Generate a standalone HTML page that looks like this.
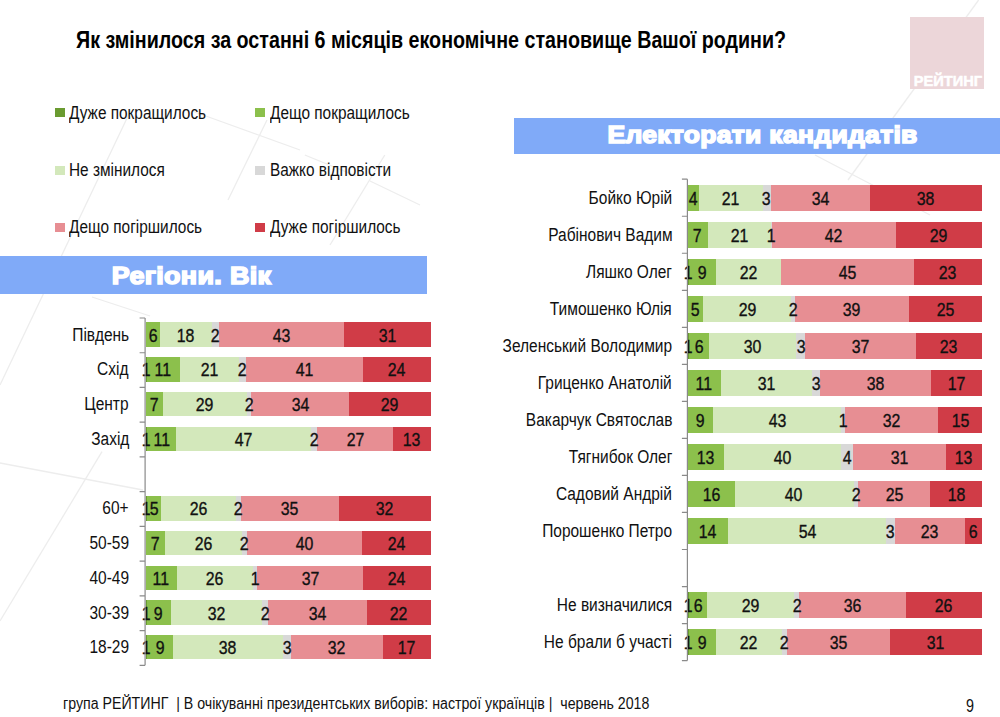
<!DOCTYPE html>
<html><head><meta charset="utf-8"><style>
html,body{margin:0;padding:0;}
body{width:1000px;height:717px;position:relative;overflow:hidden;background:#fff;font-family:"Liberation Sans", sans-serif;}
.t{position:absolute;line-height:1;white-space:nowrap;}
.r{position:absolute;}
</style></head><body>
<svg width="1000" height="717" style="position:absolute;left:0;top:0"><line x1="978.6" y1="0" x2="848" y2="180" stroke="#ededed" stroke-width="1.3"/><line x1="815" y1="155" x2="930" y2="215" stroke="#ededed" stroke-width="1.3"/><line x1="384.8" y1="155" x2="330" y2="245" stroke="#ededed" stroke-width="1.3"/><line x1="370" y1="181" x2="420" y2="205" stroke="#ededed" stroke-width="1.3"/><line x1="304.8" y1="155" x2="356" y2="175.8" stroke="#ededed" stroke-width="1.3"/><line x1="129" y1="114" x2="0" y2="385" stroke="#ededed" stroke-width="1.3"/><line x1="192" y1="111" x2="300" y2="150" stroke="#ededed" stroke-width="1.3"/><line x1="267" y1="120" x2="228" y2="200" stroke="#ededed" stroke-width="1.3"/><line x1="92" y1="297" x2="150" y2="316" stroke="#ededed" stroke-width="1.3"/><line x1="102" y1="451.6" x2="0" y2="621" stroke="#ededed" stroke-width="1.3"/><line x1="0" y1="463" x2="143" y2="490" stroke="#ededed" stroke-width="1.3"/></svg>
<div class="t" style="left:76.20px;top:28.83px;font-size:23px;font-weight:bold;color:#000;transform:scaleX(0.8556);transform-origin:left;">Як змінилося за останні 6 місяців економічне становище Вашої родини?</div>
<div class="r" style="left:910.00px;top:16.70px;width:74.00px;height:72.60px;background:#ecd6d9;"></div>
<div class="t" style="left:748.30px;width:400px;text-align:center;top:73.73px;font-size:14.5px;font-weight:bold;color:#fff;-webkit-text-stroke:0.5px #fff;"><span style="display:inline-block;transform:scaleX(1.01);transform-origin:center">РЕЙТИНГ</span></div>
<div class="r" style="left:55.40px;top:108.20px;width:10.00px;height:9.20px;background:#6a9b30;"></div>
<div class="t" style="left:68.90px;top:104.79px;font-size:17.5px;font-weight:normal;color:#111;transform:scaleX(0.879);transform-origin:left;">Дуже покращилось</div>
<div class="r" style="left:254.90px;top:108.20px;width:10.00px;height:9.20px;background:#8cc04c;"></div>
<div class="t" style="left:269.90px;top:104.79px;font-size:17.5px;font-weight:normal;color:#111;transform:scaleX(0.879);transform-origin:left;">Дещо покращилось</div>
<div class="r" style="left:55.40px;top:165.50px;width:10.00px;height:9.20px;background:#d3e8bb;"></div>
<div class="t" style="left:68.90px;top:162.09px;font-size:17.5px;font-weight:normal;color:#111;transform:scaleX(0.879);transform-origin:left;">Не змінилося</div>
<div class="r" style="left:254.90px;top:165.50px;width:10.00px;height:9.20px;background:#d8d8d8;"></div>
<div class="t" style="left:269.90px;top:162.09px;font-size:17.5px;font-weight:normal;color:#111;transform:scaleX(0.879);transform-origin:left;">Важко відповісти</div>
<div class="r" style="left:55.40px;top:222.80px;width:10.00px;height:9.20px;background:#e78e93;"></div>
<div class="t" style="left:68.90px;top:219.39px;font-size:17.5px;font-weight:normal;color:#111;transform:scaleX(0.879);transform-origin:left;">Дещо погіршилось</div>
<div class="r" style="left:254.90px;top:222.80px;width:10.00px;height:9.20px;background:#d03c47;"></div>
<div class="t" style="left:269.90px;top:219.39px;font-size:17.5px;font-weight:normal;color:#111;transform:scaleX(0.879);transform-origin:left;">Дуже погіршилось</div>
<div class="r" style="left:0.00px;top:256.10px;width:427.00px;height:38.40px;background:#80aaf8;"></div>
<div class="t" style="left:-8.10px;width:400px;text-align:center;top:264.46px;font-size:24.5px;font-weight:bold;color:#fff;-webkit-text-stroke:1.6px #fff;letter-spacing:0.3px;"><span style="display:inline-block;transform:scaleX(1.1);transform-origin:center">Регіони. Вік</span></div>
<div class="r" style="left:514.00px;top:117.60px;width:486.00px;height:36.80px;background:#80aaf8;"></div>
<div class="t" style="left:562.80px;width:400px;text-align:center;top:123.46px;font-size:24.5px;font-weight:bold;color:#fff;-webkit-text-stroke:1.6px #fff;letter-spacing:0.3px;"><span style="display:inline-block;transform:scaleX(1.08);transform-origin:center">Електорати кандидатів</span></div>
<div class="r" style="left:145.60px;top:322.40px;width:285.10px;height:24.50px;background:#8cc04c;"></div>
<div class="r" style="left:160.00px;top:322.40px;width:270.70px;height:24.50px;background:#d3e8bb;"></div>
<div class="r" style="left:211.70px;top:322.40px;width:219.00px;height:24.50px;background:#d8d8d8;"></div>
<div class="r" style="left:219.20px;top:322.40px;width:211.50px;height:24.50px;background:#e78e93;"></div>
<div class="r" style="left:343.50px;top:322.40px;width:87.20px;height:24.50px;background:#d03c47;"></div>
<div class="t" style="right:871.00px;top:325.71px;font-size:18px;font-weight:normal;color:#111;transform:scaleX(0.86);transform-origin:right;">Південь</div>
<div class="t" style="left:-47.20px;width:400px;text-align:center;top:325.67px;font-size:19px;font-weight:normal;color:#111;-webkit-text-stroke:0.35px #111;"><span style="display:inline-block;transform:scaleX(0.836);transform-origin:center">6</span></div>
<div class="t" style="left:-14.15px;width:400px;text-align:center;top:325.67px;font-size:19px;font-weight:normal;color:#111;-webkit-text-stroke:0.35px #111;"><span style="display:inline-block;transform:scaleX(0.836);transform-origin:center">18</span></div>
<div class="t" style="left:15.45px;width:400px;text-align:center;top:325.67px;font-size:19px;font-weight:normal;color:#111;-webkit-text-stroke:0.35px #111;"><span style="display:inline-block;transform:scaleX(0.836);transform-origin:center">2</span></div>
<div class="t" style="left:81.35px;width:400px;text-align:center;top:325.67px;font-size:19px;font-weight:normal;color:#111;-webkit-text-stroke:0.35px #111;"><span style="display:inline-block;transform:scaleX(0.836);transform-origin:center">43</span></div>
<div class="t" style="left:187.10px;width:400px;text-align:center;top:325.67px;font-size:19px;font-weight:normal;color:#111;-webkit-text-stroke:0.35px #111;"><span style="display:inline-block;transform:scaleX(0.836);transform-origin:center">31</span></div>
<div class="r" style="left:145.60px;top:357.13px;width:285.10px;height:24.50px;background:#6a9b30;"></div>
<div class="r" style="left:146.90px;top:357.13px;width:283.80px;height:24.50px;background:#8cc04c;"></div>
<div class="r" style="left:179.75px;top:357.13px;width:250.95px;height:24.50px;background:#d3e8bb;"></div>
<div class="r" style="left:239.30px;top:357.13px;width:191.40px;height:24.50px;background:#d8d8d8;"></div>
<div class="r" style="left:245.70px;top:357.13px;width:185.00px;height:24.50px;background:#e78e93;"></div>
<div class="r" style="left:363.20px;top:357.13px;width:67.50px;height:24.50px;background:#d03c47;"></div>
<div class="t" style="right:871.00px;top:360.44px;font-size:18px;font-weight:normal;color:#111;transform:scaleX(0.86);transform-origin:right;">Схід</div>
<div class="t" style="left:-53.75px;width:400px;text-align:center;top:360.40px;font-size:19px;font-weight:normal;color:#111;-webkit-text-stroke:0.35px #111;"><span style="display:inline-block;transform:scaleX(0.836);transform-origin:center">1</span></div>
<div class="t" style="left:-36.68px;width:400px;text-align:center;top:360.40px;font-size:19px;font-weight:normal;color:#111;-webkit-text-stroke:0.35px #111;"><span style="display:inline-block;transform:scaleX(0.836);transform-origin:center">11</span></div>
<div class="t" style="left:9.53px;width:400px;text-align:center;top:360.40px;font-size:19px;font-weight:normal;color:#111;-webkit-text-stroke:0.35px #111;"><span style="display:inline-block;transform:scaleX(0.836);transform-origin:center">21</span></div>
<div class="t" style="left:42.50px;width:400px;text-align:center;top:360.40px;font-size:19px;font-weight:normal;color:#111;-webkit-text-stroke:0.35px #111;"><span style="display:inline-block;transform:scaleX(0.836);transform-origin:center">2</span></div>
<div class="t" style="left:104.45px;width:400px;text-align:center;top:360.40px;font-size:19px;font-weight:normal;color:#111;-webkit-text-stroke:0.35px #111;"><span style="display:inline-block;transform:scaleX(0.836);transform-origin:center">41</span></div>
<div class="t" style="left:196.95px;width:400px;text-align:center;top:360.40px;font-size:19px;font-weight:normal;color:#111;-webkit-text-stroke:0.35px #111;"><span style="display:inline-block;transform:scaleX(0.836);transform-origin:center">24</span></div>
<div class="r" style="left:145.60px;top:391.86px;width:285.10px;height:24.50px;background:#8cc04c;"></div>
<div class="r" style="left:162.95px;top:391.86px;width:267.75px;height:24.50px;background:#d3e8bb;"></div>
<div class="r" style="left:246.80px;top:391.86px;width:183.90px;height:24.50px;background:#d8d8d8;"></div>
<div class="r" style="left:251.30px;top:391.86px;width:179.40px;height:24.50px;background:#e78e93;"></div>
<div class="r" style="left:349.10px;top:391.86px;width:81.60px;height:24.50px;background:#d03c47;"></div>
<div class="t" style="right:871.00px;top:395.17px;font-size:18px;font-weight:normal;color:#111;transform:scaleX(0.86);transform-origin:right;">Центр</div>
<div class="t" style="left:-45.73px;width:400px;text-align:center;top:395.13px;font-size:19px;font-weight:normal;color:#111;-webkit-text-stroke:0.35px #111;"><span style="display:inline-block;transform:scaleX(0.836);transform-origin:center">7</span></div>
<div class="t" style="left:4.88px;width:400px;text-align:center;top:395.13px;font-size:19px;font-weight:normal;color:#111;-webkit-text-stroke:0.35px #111;"><span style="display:inline-block;transform:scaleX(0.836);transform-origin:center">29</span></div>
<div class="t" style="left:49.05px;width:400px;text-align:center;top:395.13px;font-size:19px;font-weight:normal;color:#111;-webkit-text-stroke:0.35px #111;"><span style="display:inline-block;transform:scaleX(0.836);transform-origin:center">2</span></div>
<div class="t" style="left:100.20px;width:400px;text-align:center;top:395.13px;font-size:19px;font-weight:normal;color:#111;-webkit-text-stroke:0.35px #111;"><span style="display:inline-block;transform:scaleX(0.836);transform-origin:center">34</span></div>
<div class="t" style="left:189.90px;width:400px;text-align:center;top:395.13px;font-size:19px;font-weight:normal;color:#111;-webkit-text-stroke:0.35px #111;"><span style="display:inline-block;transform:scaleX(0.836);transform-origin:center">29</span></div>
<div class="r" style="left:145.60px;top:426.59px;width:285.10px;height:24.50px;background:#6a9b30;"></div>
<div class="r" style="left:146.60px;top:426.59px;width:284.10px;height:24.50px;background:#8cc04c;"></div>
<div class="r" style="left:176.30px;top:426.59px;width:254.40px;height:24.50px;background:#d3e8bb;"></div>
<div class="r" style="left:310.90px;top:426.59px;width:119.80px;height:24.50px;background:#d8d8d8;"></div>
<div class="r" style="left:317.10px;top:426.59px;width:113.60px;height:24.50px;background:#e78e93;"></div>
<div class="r" style="left:393.10px;top:426.59px;width:37.60px;height:24.50px;background:#d03c47;"></div>
<div class="t" style="right:871.00px;top:429.90px;font-size:18px;font-weight:normal;color:#111;transform:scaleX(0.86);transform-origin:right;">Захід</div>
<div class="t" style="left:-53.90px;width:400px;text-align:center;top:429.86px;font-size:19px;font-weight:normal;color:#111;-webkit-text-stroke:0.35px #111;"><span style="display:inline-block;transform:scaleX(0.836);transform-origin:center">1</span></div>
<div class="t" style="left:-38.55px;width:400px;text-align:center;top:429.86px;font-size:19px;font-weight:normal;color:#111;-webkit-text-stroke:0.35px #111;"><span style="display:inline-block;transform:scaleX(0.836);transform-origin:center">11</span></div>
<div class="t" style="left:43.60px;width:400px;text-align:center;top:429.86px;font-size:19px;font-weight:normal;color:#111;-webkit-text-stroke:0.35px #111;"><span style="display:inline-block;transform:scaleX(0.836);transform-origin:center">47</span></div>
<div class="t" style="left:114.00px;width:400px;text-align:center;top:429.86px;font-size:19px;font-weight:normal;color:#111;-webkit-text-stroke:0.35px #111;"><span style="display:inline-block;transform:scaleX(0.836);transform-origin:center">2</span></div>
<div class="t" style="left:155.10px;width:400px;text-align:center;top:429.86px;font-size:19px;font-weight:normal;color:#111;-webkit-text-stroke:0.35px #111;"><span style="display:inline-block;transform:scaleX(0.836);transform-origin:center">27</span></div>
<div class="t" style="left:211.90px;width:400px;text-align:center;top:429.86px;font-size:19px;font-weight:normal;color:#111;-webkit-text-stroke:0.35px #111;"><span style="display:inline-block;transform:scaleX(0.836);transform-origin:center">13</span></div>
<div class="r" style="left:145.60px;top:496.05px;width:285.10px;height:24.50px;background:#6a9b30;"></div>
<div class="r" style="left:146.60px;top:496.05px;width:284.10px;height:24.50px;background:#8cc04c;"></div>
<div class="r" style="left:161.00px;top:496.05px;width:269.70px;height:24.50px;background:#d3e8bb;"></div>
<div class="r" style="left:236.00px;top:496.05px;width:194.70px;height:24.50px;background:#d8d8d8;"></div>
<div class="r" style="left:240.50px;top:496.05px;width:190.20px;height:24.50px;background:#e78e93;"></div>
<div class="r" style="left:339.20px;top:496.05px;width:91.50px;height:24.50px;background:#d03c47;"></div>
<div class="t" style="right:871.00px;top:499.36px;font-size:18px;font-weight:normal;color:#111;transform:scaleX(0.86);transform-origin:right;">60+</div>
<div class="t" style="left:-53.90px;width:400px;text-align:center;top:499.32px;font-size:19px;font-weight:normal;color:#111;-webkit-text-stroke:0.35px #111;"><span style="display:inline-block;transform:scaleX(0.836);transform-origin:center">1</span></div>
<div class="t" style="left:-46.20px;width:400px;text-align:center;top:499.32px;font-size:19px;font-weight:normal;color:#111;-webkit-text-stroke:0.35px #111;"><span style="display:inline-block;transform:scaleX(0.836);transform-origin:center">5</span></div>
<div class="t" style="left:-1.50px;width:400px;text-align:center;top:499.32px;font-size:19px;font-weight:normal;color:#111;-webkit-text-stroke:0.35px #111;"><span style="display:inline-block;transform:scaleX(0.836);transform-origin:center">26</span></div>
<div class="t" style="left:38.25px;width:400px;text-align:center;top:499.32px;font-size:19px;font-weight:normal;color:#111;-webkit-text-stroke:0.35px #111;"><span style="display:inline-block;transform:scaleX(0.836);transform-origin:center">2</span></div>
<div class="t" style="left:89.85px;width:400px;text-align:center;top:499.32px;font-size:19px;font-weight:normal;color:#111;-webkit-text-stroke:0.35px #111;"><span style="display:inline-block;transform:scaleX(0.836);transform-origin:center">35</span></div>
<div class="t" style="left:184.95px;width:400px;text-align:center;top:499.32px;font-size:19px;font-weight:normal;color:#111;-webkit-text-stroke:0.35px #111;"><span style="display:inline-block;transform:scaleX(0.836);transform-origin:center">32</span></div>
<div class="r" style="left:145.60px;top:530.78px;width:285.10px;height:24.50px;background:#8cc04c;"></div>
<div class="r" style="left:165.20px;top:530.78px;width:265.50px;height:24.50px;background:#d3e8bb;"></div>
<div class="r" style="left:242.00px;top:530.78px;width:188.70px;height:24.50px;background:#d8d8d8;"></div>
<div class="r" style="left:246.80px;top:530.78px;width:183.90px;height:24.50px;background:#e78e93;"></div>
<div class="r" style="left:362.10px;top:530.78px;width:68.60px;height:24.50px;background:#d03c47;"></div>
<div class="t" style="right:871.00px;top:534.09px;font-size:18px;font-weight:normal;color:#111;transform:scaleX(0.86);transform-origin:right;">50-59</div>
<div class="t" style="left:-44.60px;width:400px;text-align:center;top:534.05px;font-size:19px;font-weight:normal;color:#111;-webkit-text-stroke:0.35px #111;"><span style="display:inline-block;transform:scaleX(0.836);transform-origin:center">7</span></div>
<div class="t" style="left:3.60px;width:400px;text-align:center;top:534.05px;font-size:19px;font-weight:normal;color:#111;-webkit-text-stroke:0.35px #111;"><span style="display:inline-block;transform:scaleX(0.836);transform-origin:center">26</span></div>
<div class="t" style="left:44.40px;width:400px;text-align:center;top:534.05px;font-size:19px;font-weight:normal;color:#111;-webkit-text-stroke:0.35px #111;"><span style="display:inline-block;transform:scaleX(0.836);transform-origin:center">2</span></div>
<div class="t" style="left:104.45px;width:400px;text-align:center;top:534.05px;font-size:19px;font-weight:normal;color:#111;-webkit-text-stroke:0.35px #111;"><span style="display:inline-block;transform:scaleX(0.836);transform-origin:center">40</span></div>
<div class="t" style="left:196.40px;width:400px;text-align:center;top:534.05px;font-size:19px;font-weight:normal;color:#111;-webkit-text-stroke:0.35px #111;"><span style="display:inline-block;transform:scaleX(0.836);transform-origin:center">24</span></div>
<div class="r" style="left:145.60px;top:565.51px;width:285.10px;height:24.50px;background:#8cc04c;"></div>
<div class="r" style="left:176.75px;top:565.51px;width:253.95px;height:24.50px;background:#d3e8bb;"></div>
<div class="r" style="left:253.20px;top:565.51px;width:177.50px;height:24.50px;background:#d8d8d8;"></div>
<div class="r" style="left:257.00px;top:565.51px;width:173.70px;height:24.50px;background:#e78e93;"></div>
<div class="r" style="left:363.20px;top:565.51px;width:67.50px;height:24.50px;background:#d03c47;"></div>
<div class="t" style="right:871.00px;top:568.82px;font-size:18px;font-weight:normal;color:#111;transform:scaleX(0.86);transform-origin:right;">40-49</div>
<div class="t" style="left:-38.82px;width:400px;text-align:center;top:568.78px;font-size:19px;font-weight:normal;color:#111;-webkit-text-stroke:0.35px #111;"><span style="display:inline-block;transform:scaleX(0.836);transform-origin:center">11</span></div>
<div class="t" style="left:14.97px;width:400px;text-align:center;top:568.78px;font-size:19px;font-weight:normal;color:#111;-webkit-text-stroke:0.35px #111;"><span style="display:inline-block;transform:scaleX(0.836);transform-origin:center">26</span></div>
<div class="t" style="left:55.10px;width:400px;text-align:center;top:568.78px;font-size:19px;font-weight:normal;color:#111;-webkit-text-stroke:0.35px #111;"><span style="display:inline-block;transform:scaleX(0.836);transform-origin:center">1</span></div>
<div class="t" style="left:110.10px;width:400px;text-align:center;top:568.78px;font-size:19px;font-weight:normal;color:#111;-webkit-text-stroke:0.35px #111;"><span style="display:inline-block;transform:scaleX(0.836);transform-origin:center">37</span></div>
<div class="t" style="left:196.95px;width:400px;text-align:center;top:568.78px;font-size:19px;font-weight:normal;color:#111;-webkit-text-stroke:0.35px #111;"><span style="display:inline-block;transform:scaleX(0.836);transform-origin:center">24</span></div>
<div class="r" style="left:145.60px;top:600.24px;width:285.10px;height:24.50px;background:#6a9b30;"></div>
<div class="r" style="left:146.60px;top:600.24px;width:284.10px;height:24.50px;background:#8cc04c;"></div>
<div class="r" style="left:170.75px;top:600.24px;width:259.95px;height:24.50px;background:#d3e8bb;"></div>
<div class="r" style="left:261.80px;top:600.24px;width:168.90px;height:24.50px;background:#d8d8d8;"></div>
<div class="r" style="left:268.20px;top:600.24px;width:162.50px;height:24.50px;background:#e78e93;"></div>
<div class="r" style="left:367.20px;top:600.24px;width:63.50px;height:24.50px;background:#d03c47;"></div>
<div class="t" style="right:871.00px;top:603.55px;font-size:18px;font-weight:normal;color:#111;transform:scaleX(0.86);transform-origin:right;">30-39</div>
<div class="t" style="left:-53.90px;width:400px;text-align:center;top:603.51px;font-size:19px;font-weight:normal;color:#111;-webkit-text-stroke:0.35px #111;"><span style="display:inline-block;transform:scaleX(0.836);transform-origin:center">1</span></div>
<div class="t" style="left:-41.32px;width:400px;text-align:center;top:603.51px;font-size:19px;font-weight:normal;color:#111;-webkit-text-stroke:0.35px #111;"><span style="display:inline-block;transform:scaleX(0.836);transform-origin:center">9</span></div>
<div class="t" style="left:16.28px;width:400px;text-align:center;top:603.51px;font-size:19px;font-weight:normal;color:#111;-webkit-text-stroke:0.35px #111;"><span style="display:inline-block;transform:scaleX(0.836);transform-origin:center">32</span></div>
<div class="t" style="left:65.00px;width:400px;text-align:center;top:603.51px;font-size:19px;font-weight:normal;color:#111;-webkit-text-stroke:0.35px #111;"><span style="display:inline-block;transform:scaleX(0.836);transform-origin:center">2</span></div>
<div class="t" style="left:117.70px;width:400px;text-align:center;top:603.51px;font-size:19px;font-weight:normal;color:#111;-webkit-text-stroke:0.35px #111;"><span style="display:inline-block;transform:scaleX(0.836);transform-origin:center">34</span></div>
<div class="t" style="left:198.95px;width:400px;text-align:center;top:603.51px;font-size:19px;font-weight:normal;color:#111;-webkit-text-stroke:0.35px #111;"><span style="display:inline-block;transform:scaleX(0.836);transform-origin:center">22</span></div>
<div class="r" style="left:145.60px;top:634.97px;width:285.10px;height:24.50px;background:#6a9b30;"></div>
<div class="r" style="left:146.60px;top:634.97px;width:284.10px;height:24.50px;background:#8cc04c;"></div>
<div class="r" style="left:173.30px;top:634.97px;width:257.40px;height:24.50px;background:#d3e8bb;"></div>
<div class="r" style="left:282.75px;top:634.97px;width:147.95px;height:24.50px;background:#d8d8d8;"></div>
<div class="r" style="left:290.90px;top:634.97px;width:139.80px;height:24.50px;background:#e78e93;"></div>
<div class="r" style="left:382.50px;top:634.97px;width:48.20px;height:24.50px;background:#d03c47;"></div>
<div class="t" style="right:871.00px;top:638.28px;font-size:18px;font-weight:normal;color:#111;transform:scaleX(0.86);transform-origin:right;">18-29</div>
<div class="t" style="left:-53.90px;width:400px;text-align:center;top:638.24px;font-size:19px;font-weight:normal;color:#111;-webkit-text-stroke:0.35px #111;"><span style="display:inline-block;transform:scaleX(0.836);transform-origin:center">1</span></div>
<div class="t" style="left:-40.05px;width:400px;text-align:center;top:638.24px;font-size:19px;font-weight:normal;color:#111;-webkit-text-stroke:0.35px #111;"><span style="display:inline-block;transform:scaleX(0.836);transform-origin:center">9</span></div>
<div class="t" style="left:28.03px;width:400px;text-align:center;top:638.24px;font-size:19px;font-weight:normal;color:#111;-webkit-text-stroke:0.35px #111;"><span style="display:inline-block;transform:scaleX(0.836);transform-origin:center">38</span></div>
<div class="t" style="left:86.82px;width:400px;text-align:center;top:638.24px;font-size:19px;font-weight:normal;color:#111;-webkit-text-stroke:0.35px #111;"><span style="display:inline-block;transform:scaleX(0.836);transform-origin:center">3</span></div>
<div class="t" style="left:136.70px;width:400px;text-align:center;top:638.24px;font-size:19px;font-weight:normal;color:#111;-webkit-text-stroke:0.35px #111;"><span style="display:inline-block;transform:scaleX(0.836);transform-origin:center">32</span></div>
<div class="t" style="left:206.60px;width:400px;text-align:center;top:638.24px;font-size:19px;font-weight:normal;color:#111;-webkit-text-stroke:0.35px #111;"><span style="display:inline-block;transform:scaleX(0.836);transform-origin:center">17</span></div>
<div class="r" style="left:687.70px;top:184.50px;width:294.10px;height:26.30px;background:#8cc04c;"></div>
<div class="r" style="left:699.00px;top:184.50px;width:282.80px;height:26.30px;background:#d3e8bb;"></div>
<div class="r" style="left:762.70px;top:184.50px;width:219.10px;height:26.30px;background:#d8d8d8;"></div>
<div class="r" style="left:770.80px;top:184.50px;width:211.00px;height:26.30px;background:#e78e93;"></div>
<div class="r" style="left:869.90px;top:184.50px;width:111.90px;height:26.30px;background:#d03c47;"></div>
<div class="t" style="right:327.80px;top:188.71px;font-size:18px;font-weight:normal;color:#111;transform:scaleX(0.86);transform-origin:right;">Бойко Юрій</div>
<div class="t" style="left:493.35px;width:400px;text-align:center;top:188.67px;font-size:19px;font-weight:normal;color:#111;-webkit-text-stroke:0.35px #111;"><span style="display:inline-block;transform:scaleX(0.836);transform-origin:center">4</span></div>
<div class="t" style="left:530.85px;width:400px;text-align:center;top:188.67px;font-size:19px;font-weight:normal;color:#111;-webkit-text-stroke:0.35px #111;"><span style="display:inline-block;transform:scaleX(0.836);transform-origin:center">21</span></div>
<div class="t" style="left:566.75px;width:400px;text-align:center;top:188.67px;font-size:19px;font-weight:normal;color:#111;-webkit-text-stroke:0.35px #111;"><span style="display:inline-block;transform:scaleX(0.836);transform-origin:center">3</span></div>
<div class="t" style="left:620.35px;width:400px;text-align:center;top:188.67px;font-size:19px;font-weight:normal;color:#111;-webkit-text-stroke:0.35px #111;"><span style="display:inline-block;transform:scaleX(0.836);transform-origin:center">34</span></div>
<div class="t" style="left:725.85px;width:400px;text-align:center;top:188.67px;font-size:19px;font-weight:normal;color:#111;-webkit-text-stroke:0.35px #111;"><span style="display:inline-block;transform:scaleX(0.836);transform-origin:center">38</span></div>
<div class="r" style="left:687.70px;top:221.53px;width:294.10px;height:26.30px;background:#8cc04c;"></div>
<div class="r" style="left:707.80px;top:221.53px;width:274.00px;height:26.30px;background:#d3e8bb;"></div>
<div class="r" style="left:770.50px;top:221.53px;width:211.30px;height:26.30px;background:#d8d8d8;"></div>
<div class="r" style="left:772.40px;top:221.53px;width:209.40px;height:26.30px;background:#e78e93;"></div>
<div class="r" style="left:895.50px;top:221.53px;width:86.30px;height:26.30px;background:#d03c47;"></div>
<div class="t" style="right:327.80px;top:225.74px;font-size:18px;font-weight:normal;color:#111;transform:scaleX(0.86);transform-origin:right;">Рабінович Вадим</div>
<div class="t" style="left:497.75px;width:400px;text-align:center;top:225.70px;font-size:19px;font-weight:normal;color:#111;-webkit-text-stroke:0.35px #111;"><span style="display:inline-block;transform:scaleX(0.836);transform-origin:center">7</span></div>
<div class="t" style="left:539.15px;width:400px;text-align:center;top:225.70px;font-size:19px;font-weight:normal;color:#111;-webkit-text-stroke:0.35px #111;"><span style="display:inline-block;transform:scaleX(0.836);transform-origin:center">21</span></div>
<div class="t" style="left:571.45px;width:400px;text-align:center;top:225.70px;font-size:19px;font-weight:normal;color:#111;-webkit-text-stroke:0.35px #111;"><span style="display:inline-block;transform:scaleX(0.836);transform-origin:center">1</span></div>
<div class="t" style="left:633.95px;width:400px;text-align:center;top:225.70px;font-size:19px;font-weight:normal;color:#111;-webkit-text-stroke:0.35px #111;"><span style="display:inline-block;transform:scaleX(0.836);transform-origin:center">42</span></div>
<div class="t" style="left:738.65px;width:400px;text-align:center;top:225.70px;font-size:19px;font-weight:normal;color:#111;-webkit-text-stroke:0.35px #111;"><span style="display:inline-block;transform:scaleX(0.836);transform-origin:center">29</span></div>
<div class="r" style="left:687.70px;top:258.56px;width:294.10px;height:26.30px;background:#6a9b30;"></div>
<div class="r" style="left:688.70px;top:258.56px;width:293.10px;height:26.30px;background:#8cc04c;"></div>
<div class="r" style="left:715.75px;top:258.56px;width:266.05px;height:26.30px;background:#d3e8bb;"></div>
<div class="r" style="left:780.70px;top:258.56px;width:201.10px;height:26.30px;background:#e78e93;"></div>
<div class="r" style="left:913.60px;top:258.56px;width:68.20px;height:26.30px;background:#d03c47;"></div>
<div class="t" style="right:327.80px;top:262.77px;font-size:18px;font-weight:normal;color:#111;transform:scaleX(0.86);transform-origin:right;">Ляшко Олег</div>
<div class="t" style="left:488.20px;width:400px;text-align:center;top:262.73px;font-size:19px;font-weight:normal;color:#111;-webkit-text-stroke:0.35px #111;"><span style="display:inline-block;transform:scaleX(0.836);transform-origin:center">1</span></div>
<div class="t" style="left:502.23px;width:400px;text-align:center;top:262.73px;font-size:19px;font-weight:normal;color:#111;-webkit-text-stroke:0.35px #111;"><span style="display:inline-block;transform:scaleX(0.836);transform-origin:center">9</span></div>
<div class="t" style="left:548.23px;width:400px;text-align:center;top:262.73px;font-size:19px;font-weight:normal;color:#111;-webkit-text-stroke:0.35px #111;"><span style="display:inline-block;transform:scaleX(0.836);transform-origin:center">22</span></div>
<div class="t" style="left:647.15px;width:400px;text-align:center;top:262.73px;font-size:19px;font-weight:normal;color:#111;-webkit-text-stroke:0.35px #111;"><span style="display:inline-block;transform:scaleX(0.836);transform-origin:center">45</span></div>
<div class="t" style="left:747.70px;width:400px;text-align:center;top:262.73px;font-size:19px;font-weight:normal;color:#111;-webkit-text-stroke:0.35px #111;"><span style="display:inline-block;transform:scaleX(0.836);transform-origin:center">23</span></div>
<div class="r" style="left:687.70px;top:295.59px;width:294.10px;height:26.30px;background:#8cc04c;"></div>
<div class="r" style="left:703.30px;top:295.59px;width:278.50px;height:26.30px;background:#d3e8bb;"></div>
<div class="r" style="left:791.20px;top:295.59px;width:190.60px;height:26.30px;background:#d8d8d8;"></div>
<div class="r" style="left:795.20px;top:295.59px;width:186.60px;height:26.30px;background:#e78e93;"></div>
<div class="r" style="left:908.80px;top:295.59px;width:73.00px;height:26.30px;background:#d03c47;"></div>
<div class="t" style="right:327.80px;top:299.80px;font-size:18px;font-weight:normal;color:#111;transform:scaleX(0.86);transform-origin:right;">Тимошенко Юлія</div>
<div class="t" style="left:495.50px;width:400px;text-align:center;top:299.76px;font-size:19px;font-weight:normal;color:#111;-webkit-text-stroke:0.35px #111;"><span style="display:inline-block;transform:scaleX(0.836);transform-origin:center">5</span></div>
<div class="t" style="left:547.25px;width:400px;text-align:center;top:299.76px;font-size:19px;font-weight:normal;color:#111;-webkit-text-stroke:0.35px #111;"><span style="display:inline-block;transform:scaleX(0.836);transform-origin:center">29</span></div>
<div class="t" style="left:593.20px;width:400px;text-align:center;top:299.76px;font-size:19px;font-weight:normal;color:#111;-webkit-text-stroke:0.35px #111;"><span style="display:inline-block;transform:scaleX(0.836);transform-origin:center">2</span></div>
<div class="t" style="left:652.00px;width:400px;text-align:center;top:299.76px;font-size:19px;font-weight:normal;color:#111;-webkit-text-stroke:0.35px #111;"><span style="display:inline-block;transform:scaleX(0.836);transform-origin:center">39</span></div>
<div class="t" style="left:745.30px;width:400px;text-align:center;top:299.76px;font-size:19px;font-weight:normal;color:#111;-webkit-text-stroke:0.35px #111;"><span style="display:inline-block;transform:scaleX(0.836);transform-origin:center">25</span></div>
<div class="r" style="left:687.70px;top:332.62px;width:294.10px;height:26.30px;background:#6a9b30;"></div>
<div class="r" style="left:688.70px;top:332.62px;width:293.10px;height:26.30px;background:#8cc04c;"></div>
<div class="r" style="left:709.00px;top:332.62px;width:272.80px;height:26.30px;background:#d3e8bb;"></div>
<div class="r" style="left:796.30px;top:332.62px;width:185.50px;height:26.30px;background:#d8d8d8;"></div>
<div class="r" style="left:805.30px;top:332.62px;width:176.50px;height:26.30px;background:#e78e93;"></div>
<div class="r" style="left:915.70px;top:332.62px;width:66.10px;height:26.30px;background:#d03c47;"></div>
<div class="t" style="right:327.80px;top:336.83px;font-size:18px;font-weight:normal;color:#111;transform:scaleX(0.86);transform-origin:right;">Зеленський Володимир</div>
<div class="t" style="left:488.20px;width:400px;text-align:center;top:336.79px;font-size:19px;font-weight:normal;color:#111;-webkit-text-stroke:0.35px #111;"><span style="display:inline-block;transform:scaleX(0.836);transform-origin:center">1</span></div>
<div class="t" style="left:498.85px;width:400px;text-align:center;top:336.79px;font-size:19px;font-weight:normal;color:#111;-webkit-text-stroke:0.35px #111;"><span style="display:inline-block;transform:scaleX(0.836);transform-origin:center">6</span></div>
<div class="t" style="left:552.65px;width:400px;text-align:center;top:336.79px;font-size:19px;font-weight:normal;color:#111;-webkit-text-stroke:0.35px #111;"><span style="display:inline-block;transform:scaleX(0.836);transform-origin:center">30</span></div>
<div class="t" style="left:600.80px;width:400px;text-align:center;top:336.79px;font-size:19px;font-weight:normal;color:#111;-webkit-text-stroke:0.35px #111;"><span style="display:inline-block;transform:scaleX(0.836);transform-origin:center">3</span></div>
<div class="t" style="left:660.50px;width:400px;text-align:center;top:336.79px;font-size:19px;font-weight:normal;color:#111;-webkit-text-stroke:0.35px #111;"><span style="display:inline-block;transform:scaleX(0.836);transform-origin:center">37</span></div>
<div class="t" style="left:748.75px;width:400px;text-align:center;top:336.79px;font-size:19px;font-weight:normal;color:#111;-webkit-text-stroke:0.35px #111;"><span style="display:inline-block;transform:scaleX(0.836);transform-origin:center">23</span></div>
<div class="r" style="left:687.70px;top:369.65px;width:294.10px;height:26.30px;background:#8cc04c;"></div>
<div class="r" style="left:721.00px;top:369.65px;width:260.80px;height:26.30px;background:#d3e8bb;"></div>
<div class="r" style="left:811.75px;top:369.65px;width:170.05px;height:26.30px;background:#d8d8d8;"></div>
<div class="r" style="left:820.00px;top:369.65px;width:161.80px;height:26.30px;background:#e78e93;"></div>
<div class="r" style="left:931.20px;top:369.65px;width:50.60px;height:26.30px;background:#d03c47;"></div>
<div class="t" style="right:327.80px;top:373.86px;font-size:18px;font-weight:normal;color:#111;transform:scaleX(0.86);transform-origin:right;">Гриценко Анатолій</div>
<div class="t" style="left:504.35px;width:400px;text-align:center;top:373.82px;font-size:19px;font-weight:normal;color:#111;-webkit-text-stroke:0.35px #111;"><span style="display:inline-block;transform:scaleX(0.836);transform-origin:center">11</span></div>
<div class="t" style="left:566.38px;width:400px;text-align:center;top:373.82px;font-size:19px;font-weight:normal;color:#111;-webkit-text-stroke:0.35px #111;"><span style="display:inline-block;transform:scaleX(0.836);transform-origin:center">31</span></div>
<div class="t" style="left:615.88px;width:400px;text-align:center;top:373.82px;font-size:19px;font-weight:normal;color:#111;-webkit-text-stroke:0.35px #111;"><span style="display:inline-block;transform:scaleX(0.836);transform-origin:center">3</span></div>
<div class="t" style="left:675.60px;width:400px;text-align:center;top:373.82px;font-size:19px;font-weight:normal;color:#111;-webkit-text-stroke:0.35px #111;"><span style="display:inline-block;transform:scaleX(0.836);transform-origin:center">38</span></div>
<div class="t" style="left:756.50px;width:400px;text-align:center;top:373.82px;font-size:19px;font-weight:normal;color:#111;-webkit-text-stroke:0.35px #111;"><span style="display:inline-block;transform:scaleX(0.836);transform-origin:center">17</span></div>
<div class="r" style="left:687.70px;top:406.68px;width:294.10px;height:26.30px;background:#8cc04c;"></div>
<div class="r" style="left:713.20px;top:406.68px;width:268.60px;height:26.30px;background:#d3e8bb;"></div>
<div class="r" style="left:841.30px;top:406.68px;width:140.50px;height:26.30px;background:#d8d8d8;"></div>
<div class="r" style="left:844.80px;top:406.68px;width:137.00px;height:26.30px;background:#e78e93;"></div>
<div class="r" style="left:938.40px;top:406.68px;width:43.40px;height:26.30px;background:#d03c47;"></div>
<div class="t" style="right:327.80px;top:410.89px;font-size:18px;font-weight:normal;color:#111;transform:scaleX(0.86);transform-origin:right;">Вакарчук Святослав</div>
<div class="t" style="left:500.45px;width:400px;text-align:center;top:410.85px;font-size:19px;font-weight:normal;color:#111;-webkit-text-stroke:0.35px #111;"><span style="display:inline-block;transform:scaleX(0.836);transform-origin:center">9</span></div>
<div class="t" style="left:577.25px;width:400px;text-align:center;top:410.85px;font-size:19px;font-weight:normal;color:#111;-webkit-text-stroke:0.35px #111;"><span style="display:inline-block;transform:scaleX(0.836);transform-origin:center">43</span></div>
<div class="t" style="left:643.05px;width:400px;text-align:center;top:410.85px;font-size:19px;font-weight:normal;color:#111;-webkit-text-stroke:0.35px #111;"><span style="display:inline-block;transform:scaleX(0.836);transform-origin:center">1</span></div>
<div class="t" style="left:691.60px;width:400px;text-align:center;top:410.85px;font-size:19px;font-weight:normal;color:#111;-webkit-text-stroke:0.35px #111;"><span style="display:inline-block;transform:scaleX(0.836);transform-origin:center">32</span></div>
<div class="t" style="left:760.10px;width:400px;text-align:center;top:410.85px;font-size:19px;font-weight:normal;color:#111;-webkit-text-stroke:0.35px #111;"><span style="display:inline-block;transform:scaleX(0.836);transform-origin:center">15</span></div>
<div class="r" style="left:687.70px;top:443.71px;width:294.10px;height:26.30px;background:#8cc04c;"></div>
<div class="r" style="left:724.00px;top:443.71px;width:257.80px;height:26.30px;background:#d3e8bb;"></div>
<div class="r" style="left:840.80px;top:443.71px;width:141.00px;height:26.30px;background:#d8d8d8;"></div>
<div class="r" style="left:852.80px;top:443.71px;width:129.00px;height:26.30px;background:#e78e93;"></div>
<div class="r" style="left:945.60px;top:443.71px;width:36.20px;height:26.30px;background:#d03c47;"></div>
<div class="t" style="right:327.80px;top:447.92px;font-size:18px;font-weight:normal;color:#111;transform:scaleX(0.86);transform-origin:right;">Тягнибок Олег</div>
<div class="t" style="left:505.85px;width:400px;text-align:center;top:447.88px;font-size:19px;font-weight:normal;color:#111;-webkit-text-stroke:0.35px #111;"><span style="display:inline-block;transform:scaleX(0.836);transform-origin:center">13</span></div>
<div class="t" style="left:582.40px;width:400px;text-align:center;top:447.88px;font-size:19px;font-weight:normal;color:#111;-webkit-text-stroke:0.35px #111;"><span style="display:inline-block;transform:scaleX(0.836);transform-origin:center">40</span></div>
<div class="t" style="left:646.80px;width:400px;text-align:center;top:447.88px;font-size:19px;font-weight:normal;color:#111;-webkit-text-stroke:0.35px #111;"><span style="display:inline-block;transform:scaleX(0.836);transform-origin:center">4</span></div>
<div class="t" style="left:699.20px;width:400px;text-align:center;top:447.88px;font-size:19px;font-weight:normal;color:#111;-webkit-text-stroke:0.35px #111;"><span style="display:inline-block;transform:scaleX(0.836);transform-origin:center">31</span></div>
<div class="t" style="left:763.70px;width:400px;text-align:center;top:447.88px;font-size:19px;font-weight:normal;color:#111;-webkit-text-stroke:0.35px #111;"><span style="display:inline-block;transform:scaleX(0.836);transform-origin:center">13</span></div>
<div class="r" style="left:687.70px;top:480.74px;width:294.10px;height:26.30px;background:#8cc04c;"></div>
<div class="r" style="left:734.50px;top:480.74px;width:247.30px;height:26.30px;background:#d3e8bb;"></div>
<div class="r" style="left:853.60px;top:480.74px;width:128.20px;height:26.30px;background:#d8d8d8;"></div>
<div class="r" style="left:858.40px;top:480.74px;width:123.40px;height:26.30px;background:#e78e93;"></div>
<div class="r" style="left:930.40px;top:480.74px;width:51.40px;height:26.30px;background:#d03c47;"></div>
<div class="t" style="right:327.80px;top:484.95px;font-size:18px;font-weight:normal;color:#111;transform:scaleX(0.86);transform-origin:right;">Садовий Андрій</div>
<div class="t" style="left:511.10px;width:400px;text-align:center;top:484.91px;font-size:19px;font-weight:normal;color:#111;-webkit-text-stroke:0.35px #111;"><span style="display:inline-block;transform:scaleX(0.836);transform-origin:center">16</span></div>
<div class="t" style="left:594.05px;width:400px;text-align:center;top:484.91px;font-size:19px;font-weight:normal;color:#111;-webkit-text-stroke:0.35px #111;"><span style="display:inline-block;transform:scaleX(0.836);transform-origin:center">40</span></div>
<div class="t" style="left:656.00px;width:400px;text-align:center;top:484.91px;font-size:19px;font-weight:normal;color:#111;-webkit-text-stroke:0.35px #111;"><span style="display:inline-block;transform:scaleX(0.836);transform-origin:center">2</span></div>
<div class="t" style="left:694.40px;width:400px;text-align:center;top:484.91px;font-size:19px;font-weight:normal;color:#111;-webkit-text-stroke:0.35px #111;"><span style="display:inline-block;transform:scaleX(0.836);transform-origin:center">25</span></div>
<div class="t" style="left:756.10px;width:400px;text-align:center;top:484.91px;font-size:19px;font-weight:normal;color:#111;-webkit-text-stroke:0.35px #111;"><span style="display:inline-block;transform:scaleX(0.836);transform-origin:center">18</span></div>
<div class="r" style="left:687.70px;top:517.77px;width:294.10px;height:26.30px;background:#8cc04c;"></div>
<div class="r" style="left:727.75px;top:517.77px;width:254.05px;height:26.30px;background:#d3e8bb;"></div>
<div class="r" style="left:886.40px;top:517.77px;width:95.40px;height:26.30px;background:#d8d8d8;"></div>
<div class="r" style="left:894.90px;top:517.77px;width:86.90px;height:26.30px;background:#e78e93;"></div>
<div class="r" style="left:964.50px;top:517.77px;width:17.30px;height:26.30px;background:#d03c47;"></div>
<div class="t" style="right:327.80px;top:521.98px;font-size:18px;font-weight:normal;color:#111;transform:scaleX(0.86);transform-origin:right;">Порошенко Петро</div>
<div class="t" style="left:507.73px;width:400px;text-align:center;top:521.94px;font-size:19px;font-weight:normal;color:#111;-webkit-text-stroke:0.35px #111;"><span style="display:inline-block;transform:scaleX(0.836);transform-origin:center">14</span></div>
<div class="t" style="left:607.08px;width:400px;text-align:center;top:521.94px;font-size:19px;font-weight:normal;color:#111;-webkit-text-stroke:0.35px #111;"><span style="display:inline-block;transform:scaleX(0.836);transform-origin:center">54</span></div>
<div class="t" style="left:690.65px;width:400px;text-align:center;top:521.94px;font-size:19px;font-weight:normal;color:#111;-webkit-text-stroke:0.35px #111;"><span style="display:inline-block;transform:scaleX(0.836);transform-origin:center">3</span></div>
<div class="t" style="left:729.70px;width:400px;text-align:center;top:521.94px;font-size:19px;font-weight:normal;color:#111;-webkit-text-stroke:0.35px #111;"><span style="display:inline-block;transform:scaleX(0.836);transform-origin:center">23</span></div>
<div class="t" style="left:773.15px;width:400px;text-align:center;top:521.94px;font-size:19px;font-weight:normal;color:#111;-webkit-text-stroke:0.35px #111;"><span style="display:inline-block;transform:scaleX(0.836);transform-origin:center">6</span></div>
<div class="r" style="left:687.70px;top:591.83px;width:294.10px;height:26.30px;background:#6a9b30;"></div>
<div class="r" style="left:688.70px;top:591.83px;width:293.10px;height:26.30px;background:#8cc04c;"></div>
<div class="r" style="left:707.20px;top:591.83px;width:274.60px;height:26.30px;background:#d3e8bb;"></div>
<div class="r" style="left:794.20px;top:591.83px;width:187.60px;height:26.30px;background:#d8d8d8;"></div>
<div class="r" style="left:799.40px;top:591.83px;width:182.40px;height:26.30px;background:#e78e93;"></div>
<div class="r" style="left:905.90px;top:591.83px;width:75.90px;height:26.30px;background:#d03c47;"></div>
<div class="t" style="right:327.80px;top:596.04px;font-size:18px;font-weight:normal;color:#111;transform:scaleX(0.86);transform-origin:right;">Не визначилися</div>
<div class="t" style="left:488.20px;width:400px;text-align:center;top:596.00px;font-size:19px;font-weight:normal;color:#111;-webkit-text-stroke:0.35px #111;"><span style="display:inline-block;transform:scaleX(0.836);transform-origin:center">1</span></div>
<div class="t" style="left:497.95px;width:400px;text-align:center;top:596.00px;font-size:19px;font-weight:normal;color:#111;-webkit-text-stroke:0.35px #111;"><span style="display:inline-block;transform:scaleX(0.836);transform-origin:center">6</span></div>
<div class="t" style="left:550.70px;width:400px;text-align:center;top:596.00px;font-size:19px;font-weight:normal;color:#111;-webkit-text-stroke:0.35px #111;"><span style="display:inline-block;transform:scaleX(0.836);transform-origin:center">29</span></div>
<div class="t" style="left:596.80px;width:400px;text-align:center;top:596.00px;font-size:19px;font-weight:normal;color:#111;-webkit-text-stroke:0.35px #111;"><span style="display:inline-block;transform:scaleX(0.836);transform-origin:center">2</span></div>
<div class="t" style="left:652.65px;width:400px;text-align:center;top:596.00px;font-size:19px;font-weight:normal;color:#111;-webkit-text-stroke:0.35px #111;"><span style="display:inline-block;transform:scaleX(0.836);transform-origin:center">36</span></div>
<div class="t" style="left:743.85px;width:400px;text-align:center;top:596.00px;font-size:19px;font-weight:normal;color:#111;-webkit-text-stroke:0.35px #111;"><span style="display:inline-block;transform:scaleX(0.836);transform-origin:center">26</span></div>
<div class="r" style="left:687.70px;top:628.86px;width:294.10px;height:26.30px;background:#6a9b30;"></div>
<div class="r" style="left:688.70px;top:628.86px;width:293.10px;height:26.30px;background:#8cc04c;"></div>
<div class="r" style="left:715.75px;top:628.86px;width:266.05px;height:26.30px;background:#d3e8bb;"></div>
<div class="r" style="left:782.00px;top:628.86px;width:199.80px;height:26.30px;background:#d8d8d8;"></div>
<div class="r" style="left:787.00px;top:628.86px;width:194.80px;height:26.30px;background:#e78e93;"></div>
<div class="r" style="left:889.90px;top:628.86px;width:91.90px;height:26.30px;background:#d03c47;"></div>
<div class="t" style="right:327.80px;top:633.07px;font-size:18px;font-weight:normal;color:#111;transform:scaleX(0.86);transform-origin:right;">Не брали б участі</div>
<div class="t" style="left:488.20px;width:400px;text-align:center;top:633.03px;font-size:19px;font-weight:normal;color:#111;-webkit-text-stroke:0.35px #111;"><span style="display:inline-block;transform:scaleX(0.836);transform-origin:center">1</span></div>
<div class="t" style="left:502.23px;width:400px;text-align:center;top:633.03px;font-size:19px;font-weight:normal;color:#111;-webkit-text-stroke:0.35px #111;"><span style="display:inline-block;transform:scaleX(0.836);transform-origin:center">9</span></div>
<div class="t" style="left:548.88px;width:400px;text-align:center;top:633.03px;font-size:19px;font-weight:normal;color:#111;-webkit-text-stroke:0.35px #111;"><span style="display:inline-block;transform:scaleX(0.836);transform-origin:center">22</span></div>
<div class="t" style="left:584.50px;width:400px;text-align:center;top:633.03px;font-size:19px;font-weight:normal;color:#111;-webkit-text-stroke:0.35px #111;"><span style="display:inline-block;transform:scaleX(0.836);transform-origin:center">2</span></div>
<div class="t" style="left:638.45px;width:400px;text-align:center;top:633.03px;font-size:19px;font-weight:normal;color:#111;-webkit-text-stroke:0.35px #111;"><span style="display:inline-block;transform:scaleX(0.836);transform-origin:center">35</span></div>
<div class="t" style="left:735.85px;width:400px;text-align:center;top:633.03px;font-size:19px;font-weight:normal;color:#111;-webkit-text-stroke:0.35px #111;"><span style="display:inline-block;transform:scaleX(0.836);transform-origin:center">31</span></div>
<div class="t" style="left:63.00px;top:696.26px;font-size:16px;font-weight:normal;color:#111;transform:scaleX(0.886);transform-origin:left;">група РЕЙТИНГ &nbsp;| В очікуванні президентських виборів: настрої українців | &nbsp;червень 2018</div>
<div class="t" style="left:769.70px;width:400px;text-align:center;top:697.69px;font-size:17.5px;font-weight:normal;color:#111;"><span style="display:inline-block;transform:scaleX(0.82);transform-origin:center">9</span></div>
<svg width="1000" height="717" style="position:absolute;left:0;top:0"><path d="M145.10 318.00V665.30M139.60 318.00H145.10M139.60 352.73H145.10M139.60 387.46H145.10M139.60 422.19H145.10M139.60 456.92H145.10M139.60 491.65H145.10M139.60 526.38H145.10M139.60 561.11H145.10M139.60 595.84H145.10M139.60 630.57H145.10M139.60 665.30H145.10" stroke="#8a8a8a" stroke-width="1.2" fill="none"/><path d="M687.40 179.20V660.59M681.90 179.20H687.40M681.90 216.23H687.40M681.90 253.26H687.40M681.90 290.29H687.40M681.90 327.32H687.40M681.90 364.35H687.40M681.90 401.38H687.40M681.90 438.41H687.40M681.90 475.44H687.40M681.90 512.47H687.40M681.90 549.50H687.40M681.90 586.53H687.40M681.90 623.56H687.40M681.90 660.59H687.40" stroke="#8a8a8a" stroke-width="1.2" fill="none"/></svg>
</body></html>
